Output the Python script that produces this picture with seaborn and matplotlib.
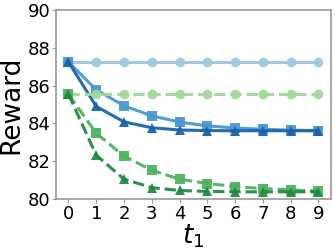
import numpy as np
import pandas as pd
import seaborn as sns
import matplotlib.pyplot as plt

t1 = list(range(10))
blue_base = [87.25] * 10
blue_sq = [87.25, 85.78, 84.93, 84.4, 84.07, 83.87, 83.76, 83.69, 83.64, 83.62]
blue_tri = [87.25, 84.9, 84.08, 83.77, 83.65, 83.62, 83.61, 83.61, 83.61, 83.61]
green_base = [85.55] * 10
green_sq = [85.55, 83.48, 82.27, 81.52, 81.05, 80.82, 80.66, 80.55, 80.48, 80.42]
green_tri = [85.55, 82.32, 81.05, 80.6, 80.45, 80.4, 80.38, 80.38, 80.38, 80.38]

series = [
    (blue_base, '#9ecae1', 'o', '-'),
    (blue_sq, '#4a98d0', 's', '-'),
    (blue_tri, '#1764ab', '^', '-'),
    (green_base, '#a1d99b', 'o', '--'),
    (green_sq, '#4db360', 's', '--'),
    (green_tri, '#208a44', '^', '--'),
]

sns.set_style('white')
plt.rcParams['text.color'] = 'black'
plt.rcParams['axes.labelcolor'] = 'black'
plt.rcParams['xtick.color'] = 'black'
plt.rcParams['ytick.color'] = 'black'
fig = plt.figure(figsize=(3.35, 2.5), dpi=100)
ax = fig.add_axes([0.167, 0.204, 0.821, 0.756])

for vals, col, mk, ls in series:
    df = pd.DataFrame({'t1': t1, 'reward': vals})
    sns.lineplot(data=df, x='t1', y='reward', color=col, marker=mk, linestyle=ls,
                 linewidth=2.2, markersize=7, markeredgewidth=0, alpha=0.95, ax=ax)

ax.set_ylim(80, 90)
ax.set_yticks([80, 82, 84, 86, 88, 90])
ax.set_xticks(t1)
ax.tick_params(axis='both', labelsize=13, length=3, color='#999999',
               labelcolor='black', pad=1, left=True, bottom=True)
for s in ax.spines.values():
    s.set_color('#999999')
    s.set_linewidth(1.2)
ax.set_xlabel('$t_1$', fontsize=19, labelpad=0, color='black')
ax.set_ylabel('Reward', fontsize=19, labelpad=2, color='black')

fig.savefig('out.png', dpi=100)
